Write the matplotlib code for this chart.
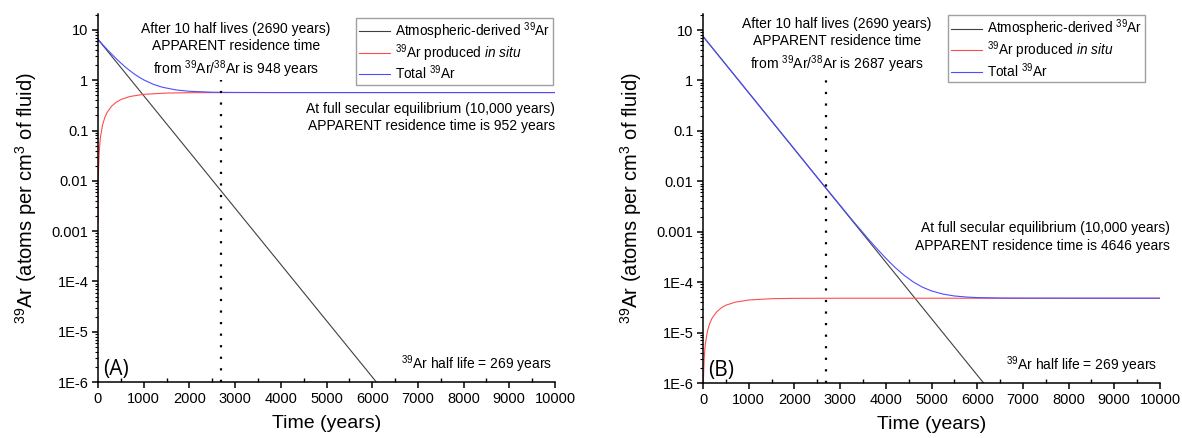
import matplotlib
matplotlib.use("Agg")
import matplotlib.pyplot as plt
from matplotlib.ticker import LogLocator, FixedLocator, MultipleLocator, NullFormatter

plt.rcParams['font.family'] = ['Liberation Sans', 'DejaVu Sans']
plt.rcParams['mathtext.fontset'] = 'custom'
plt.rcParams['mathtext.rm'] = 'Liberation Sans'
plt.rcParams['mathtext.it'] = 'Liberation Sans:italic'
plt.rcParams['mathtext.bf'] = 'Liberation Sans:bold'

# ---------------- data ----------------
# Atmospheric-derived 39Ar (straight line on log axis)
atm_t_A = [0, 6090]
atm_A = [6.5, 1e-6]
atm_t_B = [0, 6140]
atm_B = [7.5, 1e-6]

# 39Ar produced in situ
ins_t = [1, 5, 10, 25, 50, 100, 150, 200, 300, 400, 500, 700, 1000, 1500, 2000, 3000, 5000, 10000]
ins_A = [0.0015, 0.0073, 0.0146, 0.036, 0.070, 0.130, 0.183, 0.230, 0.307, 0.367, 0.414,
         0.476, 0.526, 0.557, 0.566, 0.570, 0.570, 0.570]
ins_B = [1.2e-7, 6.2e-7, 1.23e-6, 3.0e-6, 5.9e-6, 1.09e-5, 1.54e-5, 1.94e-5, 2.58e-5, 3.09e-5,
         3.49e-5, 4.0e-5, 4.43e-5, 4.7e-5, 4.77e-5, 4.8e-5, 4.8e-5, 4.8e-5]

# Total 39Ar
tot_t_A = [0, 50, 100, 150, 200, 250, 300, 400, 500, 600, 700, 800, 900, 1000, 1200, 1400,
           1700, 2000, 2500, 3000, 4000, 10000]
tot_A = [6.5, 5.78, 5.15, 4.60, 4.11, 3.68, 3.31, 2.68, 2.20, 1.83, 1.545, 1.324, 1.152, 1.02,
         0.839, 0.731, 0.644, 0.604, 0.579, 0.573, 0.570, 0.570]
tot_t_B = [0, 1000, 2000, 2500, 3000, 3250, 3500, 3600, 3800, 4000, 4200, 4400, 4600, 4800,
           5000, 5250, 5500, 5750, 6000, 6500, 7000, 10000]
tot_B = [7.5, 0.571, 0.0435, 0.0119, 3.35e-3, 1.77e-3, 9.6e-4, 7.5e-4, 4.67e-4, 2.98e-4, 1.97e-4,
         1.37e-4, 1.01e-4, 7.97e-5, 6.7e-5, 5.8e-5, 5.32e-5, 5.08e-5, 4.94e-5, 4.84e-5, 4.81e-5, 4.8e-5]

ten_half_lives = 2690
x_ticks = [0, 1000, 2000, 3000, 4000, 5000, 6000, 7000, 8000, 9000, 10000]
y_ticks = [1e-6, 1e-5, 1e-4, 1e-3, 1e-2, 1e-1, 1, 10]
y_tick_labels = ['1E-6', '1E-5', '1E-4', '0.001', '0.01', '0.1', '1', '10']

panels = [
    dict(label='(A)', atm_t=atm_t_A, atm=atm_A, ins=ins_A, tot_t=tot_t_A, tot=tot_A,
         note1='After 10 half lives (2690 years)\nAPPARENT residence time\nfrom $^{39}$Ar/$^{38}$Ar is 948 years',
         note2='At full secular equilibrium (10,000 years)\nAPPARENT residence time is 952 years'),
    dict(label='(B)', atm_t=atm_t_B, atm=atm_B, ins=ins_B, tot_t=tot_t_B, tot=tot_B,
         note1='After 10 half lives (2690 years)\nAPPARENT residence time\nfrom $^{39}$Ar/$^{38}$Ar is 2687 years',
         note2='At full secular equilibrium (10,000 years)\nAPPARENT residence time is 4646 years'),
]

fig = plt.figure(figsize=(11.82, 4.38), dpi=100)
W, H = 1182, 438
axes_px = [(98, 555, 14, 382), (703, 1160, 14, 383)]

for i, (p, (x0, x1, yt, yb)) in enumerate(zip(panels, axes_px)):
    ax = fig.add_axes([x0 / W, 1 - yb / H, (x1 - x0) / W, (yb - yt) / H])
    ax.set_yscale('log')
    ax.set_xlim(0, 10000)
    ax.set_ylim(1e-6, 20.8)

    ax.plot(p['atm_t'], p['atm'], color='#404040', lw=0.8, label='Atmospheric-derived $^{39}$Ar')
    ax.plot(ins_t, p['ins'], color='#ff4d4d', lw=0.8, label='$^{39}$Ar produced $\\mathit{in\\ situ}$')
    ax.plot(p['tot_t'], p['tot'], color='#4d4dff', lw=0.8, label='Total $^{39}$Ar')

    ax.plot([ten_half_lives, ten_half_lives], [1e-6, 1.0], color='black', lw=1.6,
            linestyle=(0, (1.0, 4.2)))

    for s in ['top', 'right']:
        ax.spines[s].set_visible(False)
    for s in ['left', 'bottom']:
        ax.spines[s].set_linewidth(1.1)

    ax.xaxis.set_major_locator(FixedLocator(x_ticks))
    ax.xaxis.set_minor_locator(MultipleLocator(500))
    ax.set_yticks(y_ticks)
    ax.set_yticklabels(y_tick_labels)
    ax.yaxis.set_minor_locator(LogLocator(base=10, subs=range(2, 10), numticks=20))
    ax.yaxis.set_minor_formatter(NullFormatter())
    ax.tick_params(axis='both', which='major', labelsize=10.5, length=4, width=1.1, direction='out', pad=3)
    ax.tick_params(axis='x', which='minor', length=3, width=1.0, direction='in')
    ax.tick_params(axis='y', which='minor', length=2.5, width=0.8, direction='out')

    ax.set_xlabel('Time (years)', fontsize=14, labelpad=7)
    ax.set_ylabel('$^{39}$Ar (atoms per cm$^{3}$ of fluid)', fontsize=14.5, labelpad=9)

    if i == 0:
        ax.text(3020, 14.4, p['note1'], ha='center', va='top', fontsize=10, linespacing=1.3)
        ax.text(10000, 0.37, p['note2'], ha='right', va='top', fontsize=10, linespacing=1.3)
        leg_anchor = (0.996, 0.99)
    else:
        ax.text(2930, 18.1, p['note1'], ha='center', va='top', fontsize=10, linespacing=1.3)
        ax.text(10220, 0.0016, p['note2'], ha='right', va='top', fontsize=10, linespacing=1.3)
        leg_anchor = (0.967, 0.997)

    ax.text(9950, 1.35e-6, '$^{39}$Ar half life = 269 years', ha='right', va='bottom', fontsize=10)
    ax.text(120, 1.1e-6, p['label'], ha='left', va='bottom', fontsize=15, family=['Open Sans', 'DejaVu Sans'])

    leg = ax.legend(loc='upper right', bbox_to_anchor=leg_anchor, borderaxespad=0, fontsize=9.8,
                    frameon=True, fancybox=False, handlelength=2.3, handletextpad=0.35,
                    labelspacing=0.0, borderpad=0.2)
    leg.get_frame().set_edgecolor('#888888')
    leg.get_frame().set_linewidth(1.0)

fig.savefig('out.png', dpi=100)
